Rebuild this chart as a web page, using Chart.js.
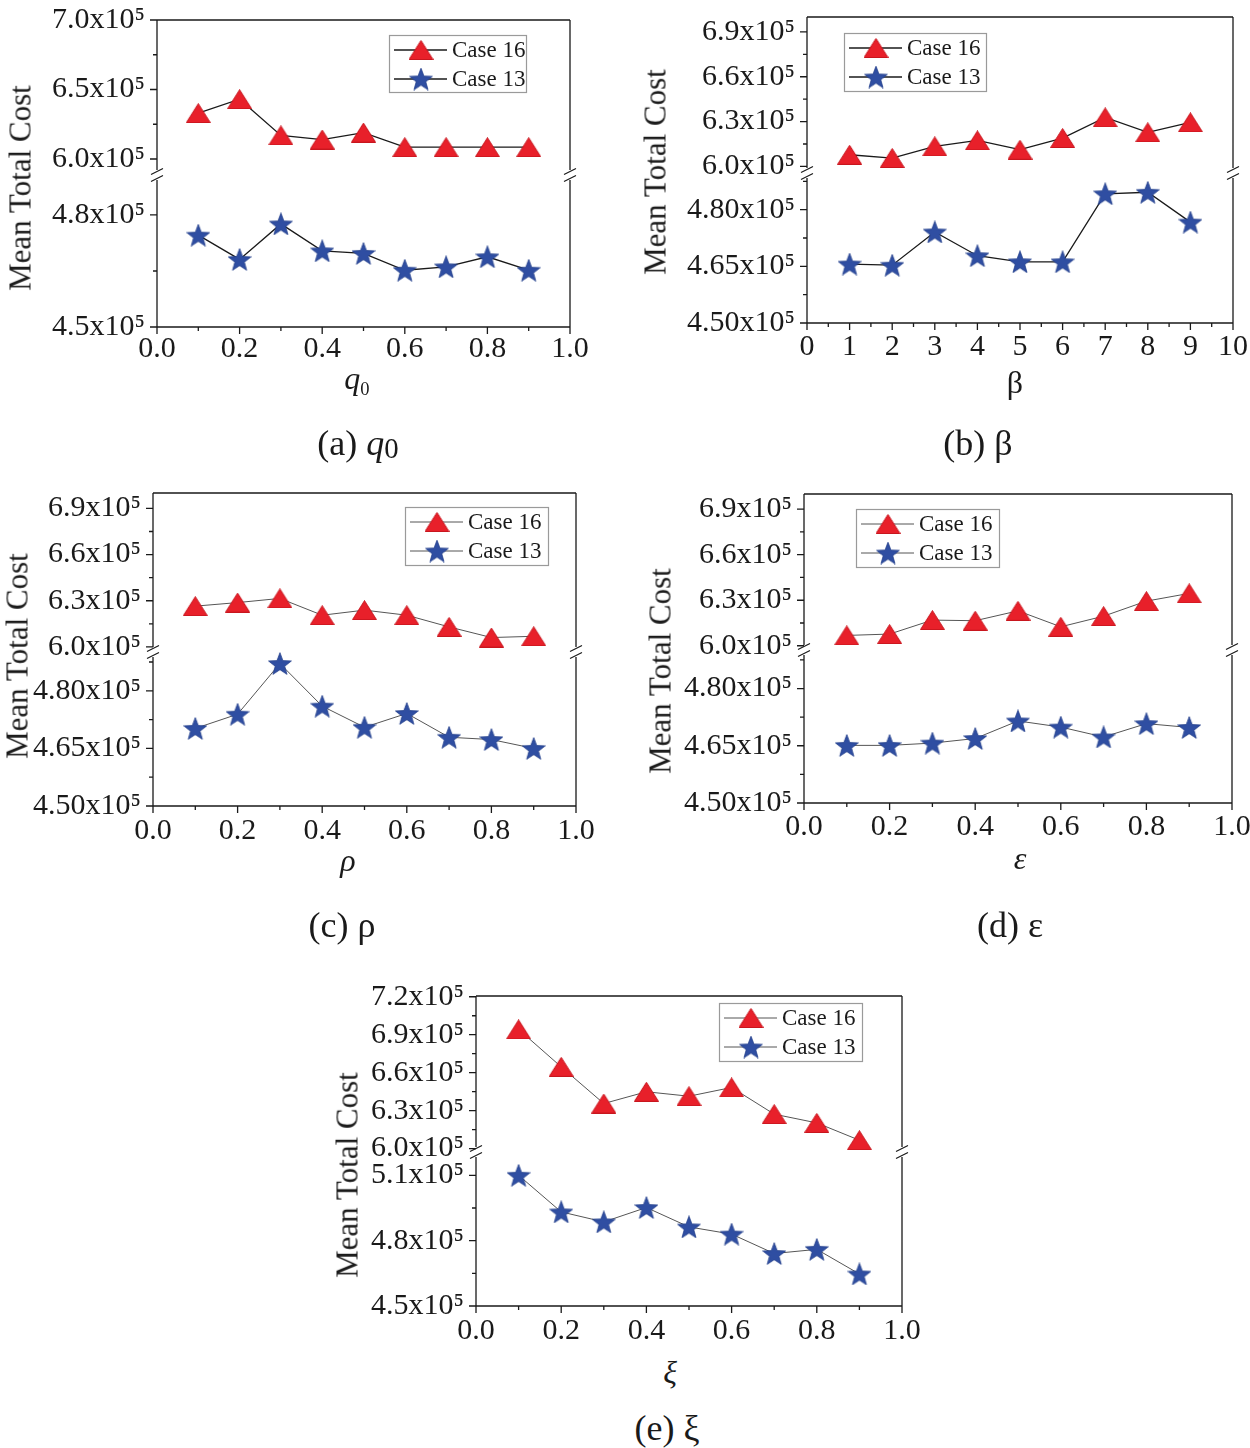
<!DOCTYPE html>
<html><head><meta charset="utf-8">
<script src="https://cdn.jsdelivr.net/npm/chart.js@4/dist/chart.umd.min.js"></script>
<style>
html,body{margin:0;padding:0;background:#fff;}
body{width:1250px;height:1448px;position:relative;overflow:hidden;font-family:"Liberation Serif","Times New Roman",serif;color:#1a1a1a;}
canvas{position:absolute;}
.t{position:absolute;white-space:nowrap;transform:translate(-50%,-50%);line-height:1;}
.yt{font-size:31px;transform:translate(-50%,-50%) rotate(-90deg);}
.xt{font-size:32px;}
.cap{font-size:36px;}
.sb{font-size:58%;position:relative;top:0.3em;}
</style></head><body>
<div id="root"></div>
<script>
// ---------- data (values in units of 10^5) ----------
const caseNames = ['Case 16', 'Case 13'];
const xFraction = [0.1, 0.2, 0.3, 0.4, 0.5, 0.6, 0.7, 0.8, 0.9];
const xBeta = [1, 2, 3, 4, 5, 6, 7, 8, 9];

const q0Case16 = [6.33, 6.43, 6.17, 6.14, 6.19, 6.085, 6.085, 6.085, 6.085];
const q0Case13 = [4.746, 4.681, 4.776, 4.704, 4.697, 4.652, 4.661, 4.688, 4.652];
const betaCase16 = [6.078, 6.056, 6.134, 6.174, 6.112, 6.190, 6.328, 6.228, 6.295];
const betaCase13 = [4.656, 4.653, 4.741, 4.678, 4.662, 4.662, 4.842, 4.846, 4.767];
const rhoCase16 = [6.265, 6.288, 6.315, 6.206, 6.239, 6.206, 6.130, 6.061, 6.069];
const rhoCase13 = [4.702, 4.739, 4.871, 4.760, 4.705, 4.741, 4.679, 4.673, 4.650];
const epsCase16 = [6.068, 6.077, 6.169, 6.165, 6.230, 6.125, 6.195, 6.294, 6.345];
const epsCase13 = [4.651, 4.651, 4.657, 4.669, 4.715, 4.699, 4.673, 4.708, 4.698];
const xiCase16 = [6.942, 6.646, 6.356, 6.449, 6.414, 6.483, 6.272, 6.203, 6.066];
const xiCase13 = [5.100, 4.932, 4.886, 4.952, 4.863, 4.830, 4.741, 4.760, 4.647];

// ---------- tick values / labels ----------
const fracMajor = [0, 0.2, 0.4, 0.6, 0.8, 1.0];
const fracMajorLabels = ['0.0', '0.2', '0.4', '0.6', '0.8', '1.0'];
const fracMinor = [0.1, 0.3, 0.5, 0.7, 0.9];
const betaMajor = [0, 1, 2, 3, 4, 5, 6, 7, 8, 9, 10];
const betaMajorLabels = ['0', '1', '2', '3', '4', '5', '6', '7', '8', '9', '10'];
const betaMinor = [0.5, 1.5, 2.5, 3.5, 4.5, 5.5, 6.5, 7.5, 8.5, 9.5];

const q0UpperTicks = [6.0, 6.5, 7.0];
const q0UpperLabels = ['6.0x10⁵', '6.5x10⁵', '7.0x10⁵'];
const q0UpperMinor = [6.25, 6.75];
const q0LowerTicks = [4.5, 4.8];
const q0LowerLabels = ['4.5x10⁵', '4.8x10⁵'];
const q0LowerMinor = [4.65];

const midUpperTicks = [6.0, 6.3, 6.6, 6.9];
const midUpperLabels = ['6.0x10⁵', '6.3x10⁵', '6.6x10⁵', '6.9x10⁵'];
const midUpperMinor = [6.15, 6.45, 6.75];
const midLowerTicks = [4.50, 4.65, 4.80];
const midLowerLabels = ['4.50x10⁵', '4.65x10⁵', '4.80x10⁵'];
const midLowerMinor = [4.575, 4.725, 4.875];

const xiUpperTicks = [6.0, 6.3, 6.6, 6.9, 7.2];
const xiUpperLabels = ['6.0x10⁵', '6.3x10⁵', '6.6x10⁵', '6.9x10⁵', '7.2x10⁵'];
const xiUpperMinor = [6.15, 6.45, 6.75, 7.05];
const xiLowerTicks = [4.5, 4.8, 5.1];
const xiLowerLabels = ['4.5x10⁵', '4.8x10⁵', '5.1x10⁵'];
const xiLowerMinor = [4.65, 4.95];

// ---------- styling ----------
const RED = '#e8202a', RED_EDGE = '#c8161e', BLUE = '#2f4ea2';
const FONT = '"Liberation Serif", "Times New Roman", serif';

function makeTriangle() {
  const c = document.createElement('canvas'); const w = 25, h = 20;
  c.width = w; c.height = h; const g = c.getContext('2d');
  g.beginPath(); g.moveTo(w / 2, 0.5); g.lineTo(w - 0.5, h - 0.5); g.lineTo(0.5, h - 0.5); g.closePath();
  g.fillStyle = RED; g.fill(); g.strokeStyle = RED_EDGE; g.lineWidth = 1; g.stroke();
  return c;
}
function makeStar() {
  const c = document.createElement('canvas'); const w = 24, h = 23;
  c.width = w; c.height = h; const g = c.getContext('2d');
  const R = 12, r = 5, cx = w / 2, cy = R + (h - R - R * Math.cos(Math.PI / 5)) / 2;
  g.beginPath();
  for (let i = 0; i < 10; i++) {
    const rad = i % 2 ? r : R, a = -Math.PI / 2 + i * Math.PI / 5;
    const px = cx + rad * Math.cos(a), py = cy + rad * Math.sin(a);
    i ? g.lineTo(px, py) : g.moveTo(px, py);
  }
  g.closePath(); g.fillStyle = BLUE; g.fill(); g.strokeStyle = '#24408c'; g.lineWidth = 0.8; g.stroke();
  return c;
}
const TRI = makeTriangle(), STAR = makeStar();

// ---------- panel layout ----------
const panels = [
  { x: xFraction, s16: q0Case16, s13: q0Case13, xMin: 0, xMax: 1, xMajor: fracMajor, xLabels: fracMajorLabels, xMinor: fracMinor,
    uMin: 5.885, uMax: 7.0, uW: 155, uTicks: q0UpperTicks, uLabels: q0UpperLabels, uMinor: q0UpperMinor,
    lMin: 4.5, lMax: 4.907, lW: 152, lTicks: q0LowerTicks, lLabels: q0LowerLabels, lMinor: q0LowerMinor,
    box: { l: 157, r: 570, t: 20, b: 327 }, legend: { x: 389, y: 35, w: 137, h: 57 }, lineColor: '#1a1a1a', lineW: 1.3,
    xPad: -4,
    yTitle: [20, 188], xTitle: [357, 378, '<i>q</i><span class="sb">0</span>'], cap: [358, 443, '(a) <i>q</i><span style="font-size:80%;position:relative;top:0.12em">0</span>'] },
  { x: xBeta, s16: betaCase16, s13: betaCase13, xMin: 0, xMax: 10, xMajor: betaMajor, xLabels: betaMajorLabels, xMinor: betaMinor,
    uMin: 5.956, uMax: 7.0, uW: 156, uTicks: midUpperTicks, uLabels: midUpperLabels, uMinor: midUpperMinor,
    lMin: 4.5, lMax: 4.897, lW: 150, lTicks: midLowerTicks, lLabels: midLowerLabels, lMinor: midLowerMinor,
    box: { l: 807, r: 1233, t: 17, b: 323 }, legend: { x: 844, y: 33, w: 142, h: 58 }, lineColor: '#1a1a1a', lineW: 1.3,
    xPad: -2,
    yTitle: [655, 172], xTitle: [1015, 382, 'β'], cap: [978, 443, '(b) β'] },
  { x: xFraction, s16: rhoCase16, s13: rhoCase13, xMin: 0, xMax: 1, xMajor: fracMajor, xLabels: fracMajorLabels, xMinor: fracMinor,
    uMin: 5.967, uMax: 7.0, uW: 159, uTicks: midUpperTicks, uLabels: midUpperLabels, uMinor: midUpperMinor,
    lMin: 4.5, lMax: 4.901, lW: 154, lTicks: midLowerTicks, lLabels: midLowerLabels, lMinor: midLowerMinor,
    box: { l: 153, r: 576, t: 493, b: 806 }, legend: { x: 405, y: 507, w: 143, h: 58 }, lineColor: '#555', lineW: 1,
    xPad: -1,
    yTitle: [17, 656], xTitle: [348, 860, '<i>ρ</i>'], cap: [342, 925, '(c) ρ'] },
  { x: xFraction, s16: epsCase16, s13: epsCase13, xMin: 0, xMax: 1, xMajor: fracMajor, xLabels: fracMajorLabels, xMinor: fracMinor,
    uMin: 5.972, uMax: 7.0, uW: 156, uTicks: midUpperTicks, uLabels: midUpperLabels, uMinor: midUpperMinor,
    lMin: 4.5, lMax: 4.901, lW: 153, lTicks: midLowerTicks, lLabels: midLowerLabels, lMinor: midLowerMinor,
    box: { l: 804, r: 1232, t: 494, b: 803 }, legend: { x: 856, y: 509, w: 143, h: 58 }, lineColor: '#555', lineW: 1,
    xPad: -2,
    yTitle: [660, 671], xTitle: [1020, 858, '<i>ε</i>'], cap: [1010, 925, '(d) ε'] },
  { x: xFraction, s16: xiCase16, s13: xiCase13, xMin: 0, xMax: 1, xMajor: fracMajor, xLabels: fracMajorLabels, xMinor: fracMinor,
    uMin: 5.973, uMax: 7.206, uW: 156, uTicks: xiUpperTicks, uLabels: xiUpperLabels, uMinor: xiUpperMinor,
    lMin: 4.5, lMax: 5.207, lW: 154, lTicks: xiLowerTicks, lLabels: xiLowerLabels, lMinor: xiLowerMinor,
    box: { l: 476, r: 902, t: 996, b: 1306 }, legend: { x: 719, y: 1003, w: 143, h: 58 }, lineColor: '#555', lineW: 1,
    xPad: -1,
    yTitle: [347, 1175], xTitle: [670, 1372, '<i>ξ</i>'], cap: [667, 1428, '(e) ξ'] }
];

const PADL = 150, PADT = 25, PADR = 25, PADB = 45;

const framePlugin = {
  id: 'frame',
  beforeDatasetsDraw(chart) {
    const p = chart.options.plugins.frame;
    const ctx = chart.ctx, xs = chart.scales.x, yu = chart.scales.yU, yl = chart.scales.yL;
    const top = yu.top <= yl.top ? yu : yl;
    const bot = top === yu ? yl : yu;
    const L = chart.chartArea.left, R = chart.chartArea.right, T = top.top, B = bot.bottom, M = top.bottom;
    ctx.save();
    ctx.strokeStyle = '#1a1a1a'; ctx.lineWidth = 1.3; ctx.lineCap = 'butt';
    ctx.beginPath();
    ctx.moveTo(L, T); ctx.lineTo(R, T);
    ctx.moveTo(L, B); ctx.lineTo(R, B);
    ctx.moveTo(L, T); ctx.lineTo(L, M - 5); ctx.moveTo(L, M + 5); ctx.lineTo(L, B);
    ctx.moveTo(R, T); ctx.lineTo(R, M - 5); ctx.moveTo(R, M + 5); ctx.lineTo(R, B);
    xs.ticks.forEach(t => { const px = xs.getPixelForValue(t.value); ctx.moveTo(px, B); ctx.lineTo(px, B + 7); });
    p.xMinor.forEach(v => { const px = xs.getPixelForValue(v); ctx.moveTo(px, B); ctx.lineTo(px, B + 4); });
    [[yu, p.uMinor], [yl, p.lMinor]].forEach(([s, minor]) => {
      s.ticks.forEach(t => { const py = s.getPixelForValue(t.value); ctx.moveTo(L, py); ctx.lineTo(L - 7, py); });
      minor.forEach(v => { const py = s.getPixelForValue(v); ctx.moveTo(L, py); ctx.lineTo(L - 4, py); });
    });
    ctx.stroke();
    ctx.lineWidth = 1.2;
    ctx.beginPath();
    [L, R].forEach(x => {
      [-3.5, 3.5].forEach(d => { ctx.moveTo(x - 6, M + d + 3); ctx.lineTo(x + 6, M + d - 3); });
    });
    ctx.stroke();
    ctx.restore();
  },
  afterDatasetsDraw(chart) {
    const p = chart.options.plugins.frame, lg = p.legend, ctx = chart.ctx;
    const ox = p.canvasLeft, oy = p.canvasTop;
    const x = lg.x - ox, y = lg.y - oy;
    ctx.save();
    ctx.fillStyle = '#fff'; ctx.fillRect(x, y, lg.w, lg.h);
    ctx.strokeStyle = '#9a9a9a'; ctx.lineWidth = 1.2; ctx.strokeRect(x + 0.5, y + 0.5, lg.w, lg.h);
    const rows = [[TRI, caseNames[0]], [STAR, caseNames[1]]];
    rows.forEach(([img, name], i) => {
      const ry = y + 15 + i * 29;
      ctx.strokeStyle = p.lineColor; ctx.lineWidth = p.lineW;
      ctx.beginPath(); ctx.moveTo(x + 5, ry); ctx.lineTo(x + 58, ry); ctx.stroke();
      ctx.drawImage(img, x + 32 - img.width / 2, ry - img.height / 2);
      ctx.fillStyle = '#1a1a1a'; ctx.font = '23px ' + FONT; ctx.textBaseline = 'middle'; ctx.textAlign = 'left';
      ctx.fillText(name, x + 63, ry + 1);
    });
    ctx.restore();
  }
};

const root = document.getElementById('root');
panels.forEach(p => {
  const cl = p.box.l - PADL, ct = p.box.t - PADT;
  const cw = (p.box.r - p.box.l) + PADL + PADR, ch = (p.box.b - p.box.t) + PADT + PADB;
  const cv = document.createElement('canvas');
  cv.style.left = cl + 'px'; cv.style.top = ct + 'px';
  cv.style.width = cw + 'px'; cv.style.height = ch + 'px';
  cv.width = cw; cv.height = ch;
  root.appendChild(cv);

  const tickFont = { family: FONT, size: 30 };
  const yScale = (min, max, w, ticks, labels) => ({
    type: 'linear', position: 'left', stack: 'v', stackWeight: w, min: min, max: max,
    grid: { display: false }, border: { display: false },
    ticks: { font: tickFont, color: '#1a1a1a', padding: 4, autoSkip: false, callback: (v, i) => labels[i] },
    afterBuildTicks: s => { s.ticks = ticks.map(v => ({ value: v })); },
    afterFit: s => { s.width = PADL; }
  });

  new Chart(cv, {
    type: 'line',
    data: {
      datasets: [
        { label: caseNames[0], data: p.x.map((v, i) => ({ x: v, y: p.s16[i] })), yAxisID: 'yU', xAxisID: 'x',
          borderColor: p.lineColor, borderWidth: p.lineW, pointStyle: TRI, pointRadius: 12, clip: false, tension: 0, fill: false },
        { label: caseNames[1], data: p.x.map((v, i) => ({ x: v, y: p.s13[i] })), yAxisID: 'yL', xAxisID: 'x',
          borderColor: p.lineColor, borderWidth: p.lineW, pointStyle: STAR, pointRadius: 12, clip: false, tension: 0, fill: false }
      ]
    },
    options: {
      responsive: false, animation: false, devicePixelRatio: 1,
      layout: { padding: { top: PADT, right: PADR, left: 0, bottom: 0 } },
      plugins: {
        legend: { display: false }, tooltip: { enabled: false },
        frame: { xMinor: p.xMinor, uMinor: p.uMinor, lMinor: p.lMinor, legend: p.legend, canvasLeft: cl, canvasTop: ct, lineColor: p.lineColor, lineW: p.lineW }
      },
      scales: {
        x: {
          type: 'linear', position: 'bottom', min: p.xMin, max: p.xMax,
          grid: { display: false }, border: { display: false },
          ticks: { font: tickFont, color: '#1a1a1a', padding: p.xPad, autoSkip: false, maxRotation: 0, callback: (v, i) => p.xLabels[i] },
          afterBuildTicks: s => { s.ticks = p.xMajor.map(v => ({ value: v })); },
          afterFit: s => { s.height = PADB; }
        },
        // left-side stacked boxes are laid out in reverse order, so the lower segment is declared first
        yL: yScale(p.lMin, p.lMax, p.lW, p.lTicks, p.lLabels),
        yU: yScale(p.uMin, p.uMax, p.uW, p.uTicks, p.uLabels)
      }
    },
    plugins: [framePlugin]
  });

  const add = (cls, x, y, html) => {
    const d = document.createElement('div'); d.className = 't ' + cls;
    d.style.left = x + 'px'; d.style.top = y + 'px'; d.innerHTML = html; document.body.appendChild(d);
  };
  add('yt', p.yTitle[0], p.yTitle[1], 'Mean Total Cost');
  add('xt', p.xTitle[0], p.xTitle[1], p.xTitle[2]);
  add('cap', p.cap[0], p.cap[1], p.cap[2]);
});
</script>
</body></html>
